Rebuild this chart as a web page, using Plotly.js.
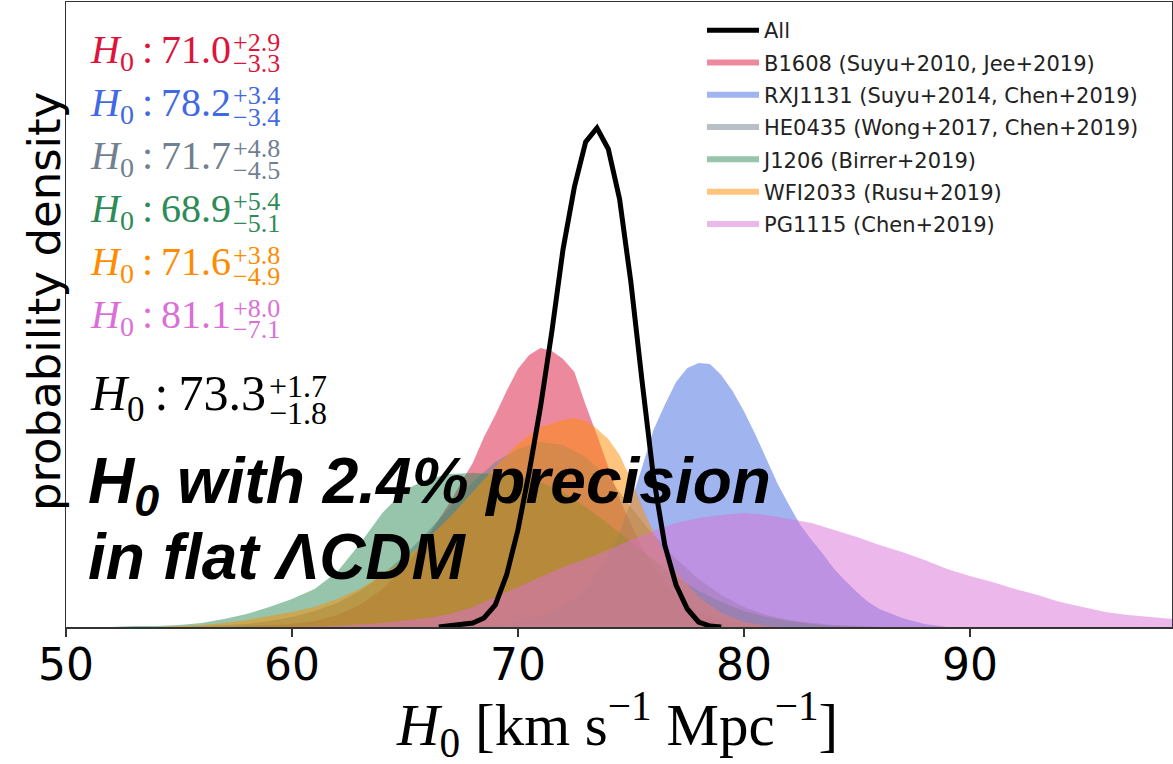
<!DOCTYPE html>
<html>
<head>
<meta charset="utf-8">
<script src="https://cdn.plot.ly/plotly-3.0.1.min.js"></script>
<style>html,body{margin:0;padding:0;background:#fff;}#chart{width:1173px;height:764px;}</style>
</head>
<body>
<div id="chart"></div>
<script>
// ---------- data (arbitrary density units) ----------
const allX = [66.5,67,67.5,68,68.5,69,69.5,70,70.5,71,71.5,72,72.5,73,73.5,74,74.5,75,75.5,76,76.5,77,77.5,78,78.5,79];
const allY = [0,0.001,0.002,0.004,0.009,0.022,0.052,0.097,0.155,0.220,0.295,0.378,0.440,0.485,0.499,0.478,0.428,0.345,0.245,0.150,0.082,0.042,0.018,0.005,0.001,0];

const b1608X = [57,58,59,60,61,62,63,64,65,66,67,67.5,68,68.5,69,69.5,70,70.5,71,71.5,72,72.5,73,73.5,74,74.5,75,75.5,76,77,78,79,80,81,82];
const b1608Y = [0,0.001,0.002,0.003,0.006,0.012,0.022,0.038,0.060,0.090,0.125,0.145,0.164,0.190,0.212,0.236,0.258,0.272,0.279,0.276,0.268,0.255,0.222,0.192,0.160,0.128,0.103,0.080,0.060,0.032,0.015,0.007,0.003,0.001,0];

const rxjX = [67,68,69,70,71,72,73,74,74.5,75,75.5,76,76.5,77,77.5,78,78.5,79,79.5,80,80.5,81,81.5,82,82.5,83,83.5,84,84.5,85,85.5,86,87,88,89];
const rxjY = [0,0.001,0.002,0.005,0.010,0.020,0.038,0.070,0.095,0.125,0.160,0.197,0.222,0.245,0.259,0.264,0.263,0.252,0.236,0.216,0.193,0.168,0.143,0.122,0.102,0.087,0.073,0.058,0.046,0.035,0.025,0.018,0.009,0.003,0];

const he0435X = [55,56,57,58,59,60,61,62,63,64,65,66,67,68,69,70,71,72,73,74,75,76,77,78,79,80,81,82,83,84,85,86];
const he0435Y = [0,0.001,0.002,0.003,0.006,0.010,0.016,0.024,0.036,0.052,0.072,0.095,0.120,0.145,0.165,0.178,0.185,0.182,0.170,0.150,0.120,0.092,0.068,0.048,0.032,0.020,0.012,0.007,0.004,0.002,0.001,0];

const j1206X = [52,53,54,55,56,57,58,59,60,61,62,63,64,65,66,67,68,69,70,71,72,73,74,75,76,77,78,79,80,81,82,83,84,85,86];
const j1206Y = [0,0.001,0.001,0.002,0.004,0.008,0.013,0.020,0.028,0.038,0.055,0.083,0.114,0.137,0.148,0.153,0.154,0.153,0.150,0.145,0.135,0.120,0.103,0.085,0.067,0.050,0.036,0.025,0.016,0.010,0.006,0.003,0.001,0.0005,0];

const wfiX = [54,55,56,57,58,59,60,61,62,63,64,65,66,67,68,69,70,71,72,72.5,73,73.5,74,74.5,75,75.5,76,76.5,77,78,79,80,81,82];
const wfiY = [0,0.001,0.002,0.004,0.007,0.011,0.015,0.020,0.028,0.038,0.052,0.068,0.088,0.110,0.135,0.160,0.183,0.200,0.207,0.209,0.206,0.198,0.188,0.172,0.148,0.120,0.095,0.073,0.055,0.030,0.014,0.005,0.001,0];

const pgX = [60,62,64,66,67,68,69,70,71,72,73,74,75,76,77,78,79,80,81,82,83,84,85,86,87,88,89,90,91,92,93,94,95,96,97,98,99];
const pgY = [0,0.001,0.004,0.009,0.013,0.020,0.030,0.040,0.050,0.060,0.068,0.077,0.087,0.096,0.104,0.109,0.112,0.114,0.112,0.108,0.104,0.097,0.090,0.082,0.075,0.067,0.058,0.051,0.045,0.038,0.032,0.025,0.020,0.015,0.012,0.010,0.008];

const seriesNames = ["B1608 (Suyu+2010, Jee+2019)","RXJ1131 (Suyu+2014, Chen+2019)","HE0435 (Wong+2017, Chen+2019)","J1206 (Birrer+2019)","WFI2033 (Rusu+2019)","PG1115 (Chen+2019)"];
const seriesColors = ["220,20,60","65,105,225","112,128,144","46,139,87","255,140,0","218,112,214"];
const seriesX = [b1608X, rxjX, he0435X, j1206X, wfiX, pgX];
const seriesY = [b1608Y, rxjY, he0435Y, j1206Y, wfiY, pgY];

const h0Main  = ["71.0","78.2","71.7","68.9","71.6","81.1"];
const h0Plus  = ["+2.9","+3.4","+4.8","+5.4","+3.8","+8.0"];
const h0Minus = ["\u22123.3","\u22123.4","\u22124.5","\u22125.1","\u22124.9","\u22127.1"];
const allMain = "73.3", allPlus = "+1.7", allMinus = "\u22121.8";
const tickVals = [50,60,70,80,90];

// ---------- geometry helpers (pixel -> paper) ----------
const L = 66, R = 1172, T = 2, B = 627;
const px = x => (x - L) / (R - L);
const py = y => (B - y) / (B - T);

const traces = [];
for (let i = 0; i < seriesNames.length; i++) {
  traces.push({
    type: 'scatter', x: seriesX[i], y: seriesY[i], name: seriesNames[i],
    mode: 'none', fill: 'tozeroy', fillcolor: 'rgba(' + seriesColors[i] + ',0.5)',
    hoverinfo: 'skip', legendrank: i + 2, legendgroup: 'g' + i
  });
}
traces.push({
  type: 'scatter', x: allX, y: allY, name: 'All', mode: 'lines',
  line: {color: '#000', width: 5}, hoverinfo: 'skip', legendrank: 1, legendgroup: 'gall'
});

const annotations = [];
const serif = 'Liberation Serif';
const colonTxt = '\u2009:\u2009';
for (let i = 0; i < h0Main.length; i++) {
  const c = 'rgb(' + seriesColors[i] + ')';
  const top = 38 + i * 53;
  annotations.push({xref:'paper', yref:'paper', x: px(88), y: py(top + 14), xanchor:'left', yanchor:'middle', showarrow:false,
    text: '<i>H</i><sub>0</sub>' + colonTxt + h0Main[i], font:{family: serif, size: 40, color: c}});
  annotations.push({xref:'paper', yref:'paper', x: px(231), y: py(top + 5), xanchor:'left', yanchor:'middle', showarrow:false,
    text: h0Plus[i], font:{family: serif, size: 26, color: c}});
  annotations.push({xref:'paper', yref:'paper', x: px(231), y: py(top + 26), xanchor:'left', yanchor:'middle', showarrow:false,
    text: h0Minus[i], font:{family: serif, size: 26, color: c}});
}
annotations.push({xref:'paper', yref:'paper', x: px(88), y: py(397), xanchor:'left', yanchor:'middle', showarrow:false,
  text: '<i>H</i><sub>0</sub>' + colonTxt + allMain, font:{family: serif, size: 50, color: '#000'}});
annotations.push({xref:'paper', yref:'paper', x: px(267), y: py(386), xanchor:'left', yanchor:'middle', showarrow:false,
  text: allPlus, font:{family: serif, size: 32, color: '#000'}});
annotations.push({xref:'paper', yref:'paper', x: px(267), y: py(413), xanchor:'left', yanchor:'middle', showarrow:false,
  text: allMinus, font:{family: serif, size: 32, color: '#000'}});

// headline
annotations.push({xref:'paper', yref:'paper', x: px(86), y: py(485), xanchor:'left', yanchor:'middle', showarrow:false,
  text: 'H<sub>0</sub> with 2.4% precision', font:{family:'Liberation Sans', size: 64, color:'#000', weight:'bold', style:'italic'}});
annotations.push({xref:'paper', yref:'paper', x: px(86), y: py(557), xanchor:'left', yanchor:'middle', showarrow:false,
  text: 'in flat \u039BCDM', font:{family:'Liberation Sans', size: 64, color:'#000', weight:'bold', style:'italic'}});

// x tick labels
for (const v of tickVals) {
  annotations.push({xref:'x', yref:'paper', x: v, y: py(664), xanchor:'center', yanchor:'middle', showarrow:false,
    text: String(v), font:{family:'DejaVu Sans', size: 44, color:'#000'}});
}

// axis titles
annotations.push({xref:'paper', yref:'paper', x: px(617), y: py(724), xanchor:'center', yanchor:'middle', showarrow:false,
  text: '<i>H</i><sub>0</sub> [km s<sup>\u22121</sup> Mpc<sup>\u22121</sup>]', font:{family: serif, size: 59, color:'#000'}});
annotations.push({xref:'paper', yref:'paper', x: px(44), y: py(302), xanchor:'center', yanchor:'middle', showarrow:false, textangle: -90,
  text: 'probability density', font:{family:'DejaVu Sans', size: 45, color:'#000'}});

const layout = {
  width: 1173, height: 764,
  margin: {l: L, r: 1173 - R, t: T, b: 764 - B},
  paper_bgcolor: '#fff', plot_bgcolor: '#fff',
  showlegend: true,
  legend: {x: px(702), y: py(10), xanchor: 'left', yanchor: 'top', bgcolor: 'rgba(0,0,0,0)',
    font: {family: 'DejaVu Sans', size: 21, color: '#222'}, itemwidth: 52, tracegroupgap: 2},
  xaxis: {range: [50, 98.95], tickvals: tickVals, showticklabels: false, ticks: 'outside', ticklen: 8,
    tickwidth: 1.5, tickcolor: '#333', showline: true, linecolor: '#333', linewidth: 1.5, mirror: true,
    showgrid: false, zeroline: false},
  yaxis: {range: [0, 0.625], showticklabels: false, ticks: '', showline: true, linecolor: '#333', linewidth: 1.5,
    mirror: true, showgrid: false, zeroline: false},
  annotations: annotations
};

Plotly.newPlot('chart', traces, layout, {staticPlot: true, displayModeBar: false});
</script>
</body>
</html>
